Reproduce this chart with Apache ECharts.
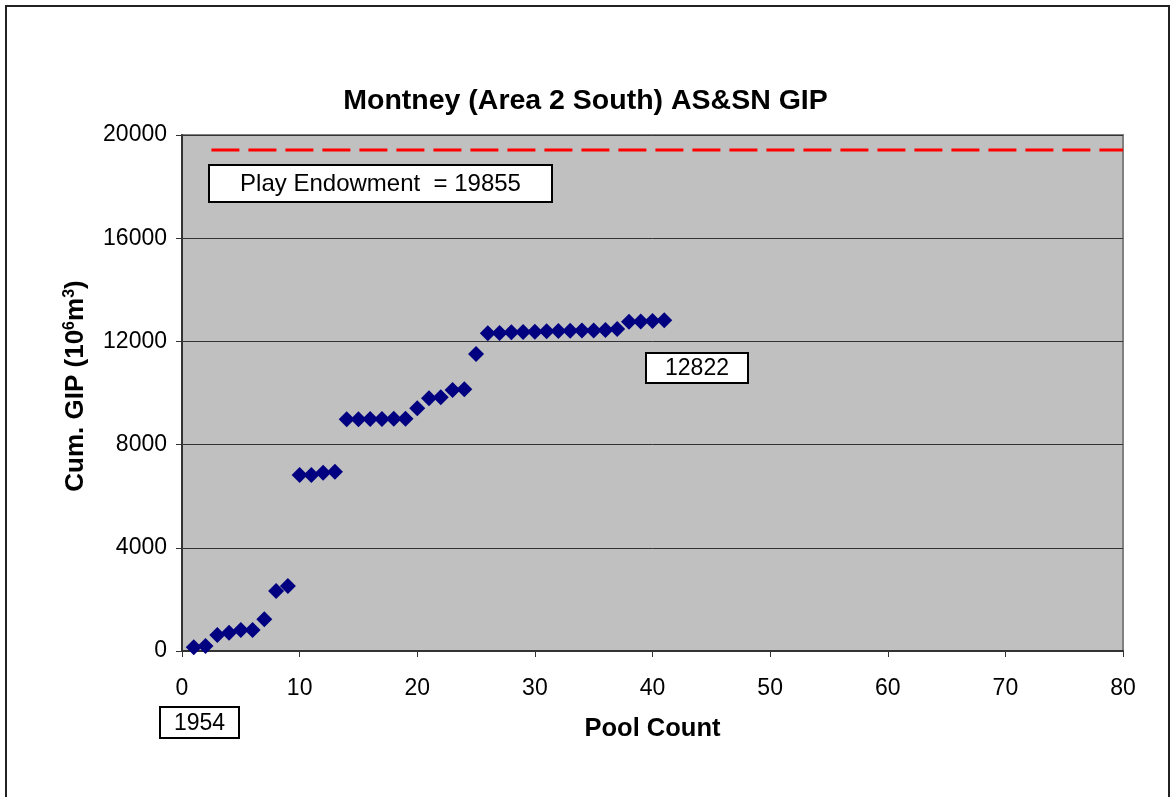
<!DOCTYPE html>
<html>
<head>
<meta charset="utf-8">
<script src="https://cdn.jsdelivr.net/npm/echarts@6/dist/echarts.min.js"></script>
<style>
  html, body { margin: 0; padding: 0; background: #fff; }
  #chart { width: 1171px; height: 797px; }
</style>
</head>
<body>
<div id="chart"></div>
<script>
// cumulative GIP per pool (pool 1..41)
const gip = [143, 194, 620, 710, 814, 814, 1228, 2325, 2519, 6822,
  6822, 6911, 6950, 8980, 8985, 8990, 8995, 9000, 9005, 9406,
  9794, 9833, 10116, 10143, 11512, 12313, 12330, 12352, 12360, 12377,
  12395, 12400, 12415, 12420, 12425, 12442, 12481, 12764, 12775, 12790,
  12822];
const endowLine = [[2.5, 19420], [80, 19420]];
const xTicks = { min: 0, max: 80, interval: 10 };
const yTicks = { min: 0, max: 20000, interval: 4000 };
const FONT = '"Liberation Sans", Arial, sans-serif';

const chart = echarts.init(document.getElementById('chart'));

const box = (x, y, w, h, label, fs) => ({
  type: 'group', x: x, y: y,
  children: [
    { type: 'rect', shape: { x: 0, y: 0, width: w, height: h },
      style: { fill: '#fff', stroke: '#000', lineWidth: 2 } },
    { type: 'text', x: w / 2, y: h / 2 + 1,
      style: { text: label, fill: '#000', font: fs + 'px ' + FONT, align: 'center', verticalAlign: 'middle' } }
  ]
});

chart.setOption({
  animation: false,
  backgroundColor: '#fff',
  title: {
    text: 'Montney (Area 2 South) AS&SN GIP',
    left: 'center', top: 82,
    textStyle: { fontFamily: FONT, fontSize: 28.5, fontWeight: 'bold', color: '#000' }
  },
  grid: {
    left: 182, right: 48, top: 135, bottom: 146,
    show: true, backgroundColor: '#c0c0c0', borderColor: '#808080', borderWidth: 2
  },
  xAxis: {
    type: 'value', ...xTicks,
    name: 'Pool Count', nameLocation: 'middle', nameGap: 65,
    nameTextStyle: { fontFamily: FONT, fontSize: 25.5, fontWeight: 'bold', color: '#000' },
    axisLine: { show: true, onZero: false, lineStyle: { color: '#333', width: 2 } },
    axisTick: { show: true, inside: false, length: 6, lineStyle: { color: '#333' } },
    axisLabel: { margin: 26, fontFamily: FONT, fontSize: 23, color: '#000' },
    splitLine: { show: false }
  },
  yAxis: {
    type: 'value', ...yTicks,
    name: '{b|Cum. GIP (10}{s|6}{b|m}{s|3}{b|)}', nameLocation: 'middle', nameGap: 92,
    nameTextStyle: {
      padding: [0, 0, 0, 14],
      rich: {
        b: { fontFamily: FONT, fontSize: 26, fontWeight: 'bold', color: '#000' },
        s: { fontFamily: FONT, fontSize: 16, fontWeight: 'bold', color: '#000', verticalAlign: 'top', padding: [0, 0, 12, 0] }
      }
    },
    axisLine: { show: true, lineStyle: { color: '#333', width: 2 } },
    axisTick: { show: true, inside: false, length: 6, lineStyle: { color: '#333' } },
    axisLabel: { margin: 15, fontFamily: FONT, fontSize: 23, color: '#000', formatter: v => String(v) },
    splitLine: { show: true, lineStyle: { color: '#333', width: 1 } }
  },
  series: [
    {
      type: 'line', data: endowLine, symbol: 'none', silent: true,
      lineStyle: { color: '#ff0000', width: 3, type: [28, 9] }
    },
    {
      type: 'scatter', data: gip.map((v, i) => [i + 1, v]),
      symbol: 'diamond', symbolSize: 16,
      itemStyle: { color: '#000080', opacity: 1 }
    }
  ],
  graphic: [
    { type: 'rect', shape: { x: 6, y: 6, width: 1163, height: 820 },
      style: { fill: 'none', stroke: '#222', lineWidth: 2 }, z: 100 },
    box(209, 165, 343, 37, 'Play Endowment  = 19855', 24),
    box(646, 353, 102, 30, '12822', 23),
    box(160, 707, 79, 31, '1954', 23)
  ]
});
</script>
</body>
</html>
